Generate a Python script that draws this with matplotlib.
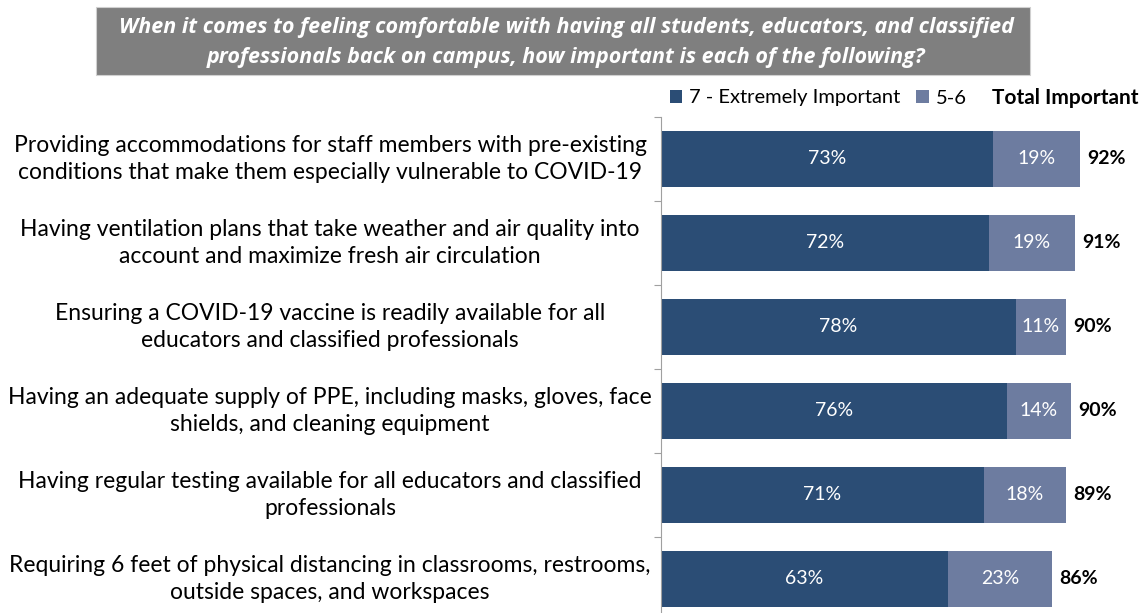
import matplotlib
matplotlib.use("Agg")
import matplotlib.pyplot as plt
from matplotlib.patches import Rectangle
from matplotlib.transforms import blended_transform_factory

categories = [
    "Providing accommodations for staff members with pre-existing\nconditions that make them especially vulnerable to COVID-19",
    "Having ventilation plans that take weather and air quality into\naccount and maximize fresh air circulation",
    "Ensuring a COVID-19 vaccine is readily available for all\neducators and classified professionals",
    "Having an adequate supply of PPE, including masks, gloves, face\nshields, and cleaning equipment",
    "Having regular testing available for all educators and classified\nprofessionals",
    "Requiring 6 feet of physical distancing in classrooms, restrooms,\noutside spaces, and workspaces",
]
extremely = [73, 72, 78, 76, 71, 63]
important56 = [19, 19, 11, 14, 18, 23]
total = [92, 91, 90, 90, 89, 86]
series_names = ["7 - Extremely Important", "5-6"]
title = ("When it comes to feeling comfortable with having all students, educators, and classified\n"
         "professionals back on campus, how important is each of the following?")

DARK = "#2b4d75"
LIGHT = "#6d7ca0"
FONT = "Lato"
TFONT = "Open Sans"

W, H = 1146, 613
fig = plt.figure(figsize=(W / 100, H / 100), dpi=100)

left, right, top, bottom = 661, 1116, 117, 621
ax = fig.add_axes([left / W, (H - bottom) / H, (right - left) / W, (bottom - top) / H])

y = list(range(len(categories)))
ax.barh(y, extremely, height=0.667, color=DARK, label=series_names[0])
ax.barh(y, important56, left=extremely, height=0.667, color=LIGHT, label=series_names[1])

for i in y:
    ax.text(extremely[i] / 2, i, f"{extremely[i]}%", ha="center", va="center",
            color="white", fontsize=14, family=FONT)
    ax.text(extremely[i] + important56[i] / 2, i, f"{important56[i]}%", ha="center", va="center",
            color="white", fontsize=14, family=FONT)
    ax.text(extremely[i] + important56[i] + 1.6, i, f"{total[i]}%", ha="left", va="center",
            color="black", fontsize=14, family=FONT, fontweight="bold")

ax.set_xlim(0, 100)
ax.set_ylim(len(categories) - 0.5, -0.5)
ax.set_xticks([])
ax.set_yticks([i + 0.5 for i in range(-1, len(categories))])
ax.set_yticklabels([])
ax.tick_params(axis="y", length=5, color="#a0a0a0", width=0.8)
for s in ["top", "right", "bottom"]:
    ax.spines[s].set_visible(False)
ax.spines["left"].set_color("#a0a0a0")
ax.spines["left"].set_linewidth(0.8)

# category labels, centred at x ~ 330 px
btrans = blended_transform_factory(fig.transFigure, ax.transData)
for i, lab in zip(y, categories):
    ax.text(330 / W, i, lab, transform=btrans, ha="center", va="center",
            fontsize=16.5, family=FONT, linespacing=1.38, clip_on=False)

# legend
leg = ax.legend(loc="center left", bbox_to_anchor=(670 / W, (H - 98) / H),
                bbox_transform=fig.transFigure, ncol=2, frameon=False,
                handlelength=0.6, handleheight=0.6, handletextpad=0.35, columnspacing=0.8,
                borderaxespad=0, borderpad=0,
                prop={"family": FONT, "size": 14.5})
fig.text(1138 / W, (H - 98) / H, "Total Important", ha="right", va="center",
         fontsize=15, family=FONT, fontweight="bold")

# title box
fig.patches.append(Rectangle((96 / W, (H - 75) / H), (1030 - 96) / W, 68 / H,
                             transform=fig.transFigure, facecolor="#7f7f7f",
                             edgecolor="#d0d0d0", linewidth=0.8))
fig.text(566 / W, (H - 42.5) / H, title, ha="center", va="center", color="white",
         fontsize=15.5, family=TFONT, fontweight="bold", style="italic", linespacing=1.5)

fig.savefig("out.png", dpi=100)
